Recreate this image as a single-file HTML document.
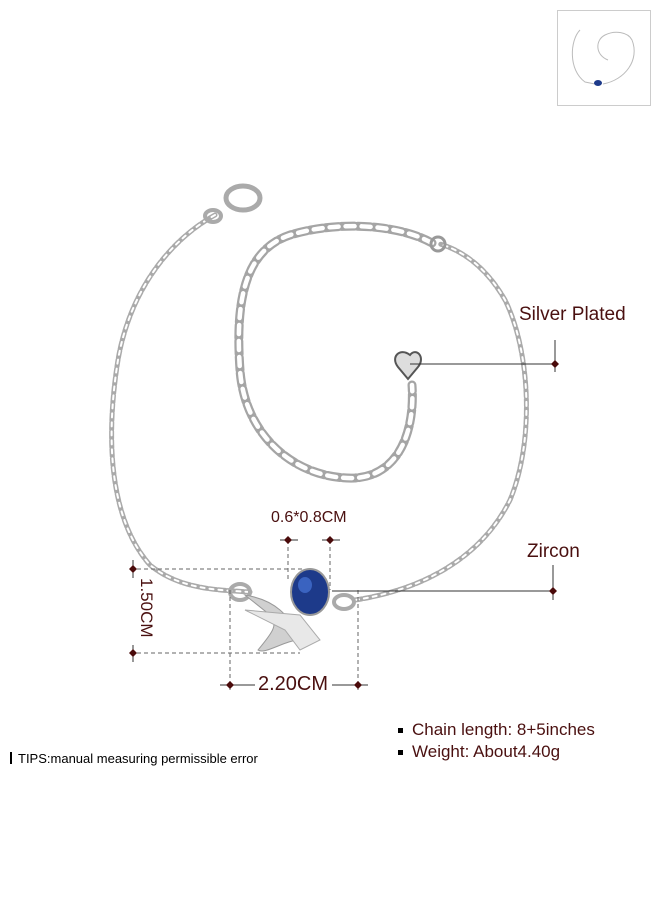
<!DOCTYPE html>
<html><head><meta charset="utf-8"><style>
html,body{margin:0;padding:0;background:#fff;}
body{width:660px;height:900px;position:relative;overflow:hidden;font-family:"Liberation Sans",sans-serif;}
.t{position:absolute;color:#4a1010;white-space:nowrap;}
</style></head><body>
<svg width="660" height="900" style="position:absolute;left:0;top:0">
<g fill="none" stroke-linecap="round">
<path d="M215,215 C170,240 130,290 118,360 C105,440 110,520 150,565 C180,590 220,590 250,592" stroke="#aaa" stroke-width="5" stroke-dasharray="7 2"/>
<path d="M215,215 C170,240 130,290 118,360 C105,440 110,520 150,565 C180,590 220,590 250,592" stroke="#fff" stroke-width="2" stroke-dasharray="4 5"/>
<path d="M355,600 C420,590 480,560 510,500 C535,440 530,350 505,300 C485,265 460,250 440,244" stroke="#aaa" stroke-width="5" stroke-dasharray="7 2"/>
<path d="M355,600 C420,590 480,560 510,500 C535,440 530,350 505,300 C485,265 460,250 440,244" stroke="#fff" stroke-width="2" stroke-dasharray="4 5"/>
<path d="M432,243 C400,225 340,220 290,235 C245,250 235,300 240,370 C245,440 300,480 355,478 C400,475 415,430 412,385" stroke="#a5a5a5" stroke-width="9" stroke-dasharray="13 3"/>
<path d="M432,243 C400,225 340,220 290,235 C245,250 235,300 240,370 C245,440 300,480 355,478 C400,475 415,430 412,385" stroke="#fff" stroke-width="4.5" stroke-dasharray="9 7"/>
</g>
<circle cx="438" cy="244" r="7" fill="none" stroke="#999" stroke-width="3"/>
<ellipse cx="243" cy="198" rx="17" ry="12" fill="none" stroke="#aaa" stroke-width="5"/>
<ellipse cx="213" cy="216" rx="8" ry="6" fill="none" stroke="#aaa" stroke-width="4"/>
<path d="M410,355 c-10,-8 -20,2 -12,12 l10,12 l10,-12 c8,-10 -2,-20 -8,-12z" fill="#ddd" stroke="#555" stroke-width="2"/>
<ellipse cx="240" cy="592" rx="10" ry="8" fill="none" stroke="#aaa" stroke-width="4"/>
<ellipse cx="344" cy="602" rx="10" ry="7" fill="none" stroke="#aaa" stroke-width="4"/>
<path d="M245,595 C275,600 290,615 300,640 C285,640 265,655 258,650 C270,635 280,625 270,615 Z" fill="#d0d0d0" stroke="#999"/>
<path d="M245,610 L300,615 L320,640 L300,650 L285,630 Z" fill="#e8e8e8" stroke="#aaa"/>
<ellipse cx="310" cy="592" rx="19" ry="23" fill="#1d3a8a" stroke="#999" stroke-width="2"/>
<ellipse cx="305" cy="585" rx="7" ry="8" fill="#3a63c0"/>
<g stroke="#666" stroke-width="1" stroke-dasharray="4 3" fill="none">
<line x1="130" y1="569" x2="305" y2="569"/>
<line x1="130" y1="653" x2="300" y2="653"/>
<line x1="288" y1="540" x2="288" y2="580"/>
<line x1="330" y1="540" x2="330" y2="590"/>
<line x1="230" y1="590" x2="230" y2="690"/>
<line x1="358" y1="590" x2="358" y2="690"/>
</g>
<g stroke="#333" stroke-width="1">
<line x1="332" y1="591" x2="553" y2="591"/>
<line x1="410" y1="364" x2="555" y2="364"/>
<line x1="553" y1="565" x2="553" y2="600"/>
<line x1="555" y1="340" x2="555" y2="372"/>
<line x1="220" y1="685" x2="255" y2="685"/><line x1="332" y1="685" x2="368" y2="685"/>
<line x1="280" y1="540" x2="298" y2="540"/><line x1="322" y1="540" x2="340" y2="540"/>
<line x1="133" y1="560" x2="133" y2="578"/><line x1="133" y1="645" x2="133" y2="662"/>
</g>
<g fill="#4a0a0a">
<path d="M553,587 l4,4 -4,4 -4,-4z"/><path d="M555,360 l4,4 -4,4 -4,-4z"/>
<path d="M230,681 l4,4 -4,4 -4,-4z"/><path d="M358,681 l4,4 -4,4 -4,-4z"/>
<path d="M288,536 l4,4 -4,4 -4,-4z"/><path d="M330,536 l4,4 -4,4 -4,-4z"/>
<path d="M133,565 l4,4 -4,4 -4,-4z"/><path d="M133,649 l4,4 -4,4 -4,-4z"/>
</g>
<rect x="557.5" y="10.5" width="93" height="95" fill="#fff" stroke="#ccc"/>
<g fill="none" stroke="#bbb" stroke-width="1">
<path d="M580,30 C570,40 568,70 585,82 L595,84"/>
<path d="M603,84 C625,80 640,60 632,40 C628,32 615,30 605,35 C595,40 595,55 608,60"/>
</g>
<ellipse cx="598" cy="83" rx="4" ry="3" fill="#1d3a8a"/>
</svg>
<div class="t" style="left:519px;top:304px;font-size:19px">Silver Plated</div>
<div class="t" style="left:527px;top:541px;font-size:19px">Zircon</div>
<div class="t" style="left:271px;top:509px;font-size:16px">0.6*0.8CM</div>
<div class="t" style="left:258px;top:673px;font-size:20px">2.20CM</div>
<div class="t" style="font-size:17px;transform:rotate(90deg);transform-origin:left top;left:156px;top:578px">1.50CM</div>
<div class="t" style="left:398px;top:720px;font-size:17px"><span style="display:inline-block;width:5px;height:5px;background:#000;margin-right:9px;vertical-align:middle"></span>Chain length: 8+5inches</div>
<div class="t" style="left:398px;top:742px;font-size:17px"><span style="display:inline-block;width:5px;height:5px;background:#000;margin-right:9px;vertical-align:middle"></span>Weight: About4.40g</div>
<div class="t" style="left:10px;top:751px;font-size:13px;color:#000"><span style="display:inline-block;width:2px;height:12px;background:#000;margin-right:6px;vertical-align:-1px"></span>TIPS:manual measuring permissible error</div>
</body></html>
